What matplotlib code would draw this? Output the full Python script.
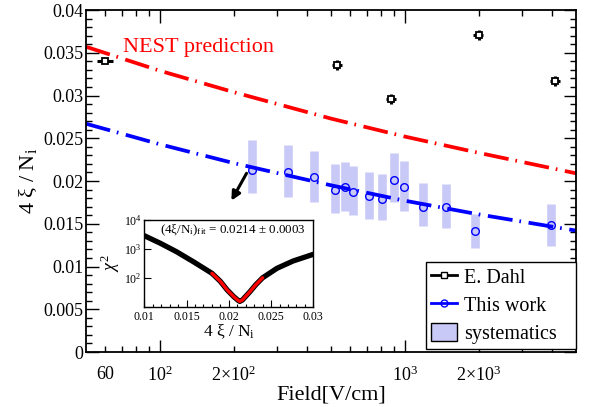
import matplotlib
matplotlib.use("Agg")
import matplotlib.pyplot as plt
from matplotlib.lines import Line2D
from matplotlib.patches import Patch
from matplotlib.ticker import FixedLocator, FixedFormatter, NullFormatter, LogLocator

plt.rcParams['font.family'] = ['Liberation Serif', 'DejaVu Serif']
plt.rcParams['mathtext.fontset'] = 'custom'
plt.rcParams['mathtext.rm'] = 'Liberation Serif'
plt.rcParams['mathtext.it'] = 'Liberation Serif:italic'
plt.rcParams['mathtext.bf'] = 'Liberation Serif:bold'
plt.rcParams['lines.scale_dashes'] = False

# ---------------- data ----------------
dahl_field = [60, 530, 880, 2000, 4100]
dahl_val = [0.0340, 0.0336, 0.0296, 0.0371, 0.0317]
dahl_xerr = [4.5, 25, 40, 95, 195]
dahl_yerr = [0.0001, 0.0006, 0.0006, 0.0006, 0.0006]

work_field = [237, 333, 427, 521, 570, 617, 713, 805, 902, 990, 1184, 1473, 1940, 3955]
work_val = [0.0213, 0.0210, 0.0205, 0.0190, 0.0193, 0.0187, 0.0182, 0.0179,
            0.0201, 0.0193, 0.0170, 0.0170, 0.0142, 0.0149]
sys_lo = [0.0186, 0.0181, 0.0176, 0.0163, 0.0165, 0.0160, 0.0156, 0.0154,
          0.0175, 0.0165, 0.0147, 0.0145, 0.0122, 0.0124]
sys_hi = [0.0248, 0.0242, 0.0235, 0.0220, 0.0222, 0.0217, 0.0211, 0.0208,
          0.0233, 0.0223, 0.0198, 0.0197, 0.0161, 0.0173]

nest_field = [50, 100, 200, 500, 1000, 2000, 5000]
nest_val = [0.0357, 0.0329, 0.0304, 0.0273, 0.0252, 0.0233, 0.0209]
fit_field = [50, 100, 200, 500, 1000, 2000, 5000]
fit_val = [0.0267, 0.0243, 0.0221, 0.0195, 0.0177, 0.0161, 0.0142]

chi_x = [0.010, 0.0119, 0.0138, 0.0158, 0.0180, 0.0190, 0.0198, 0.0206, 0.0211,
         0.0213, 0.0216, 0.0225, 0.0232, 0.0240, 0.0257, 0.0276, 0.0300]
chi_y = [2860, 1560, 800, 360, 143, 75, 38, 22, 16.5, 15.2, 17, 33, 58, 100, 213, 380, 650]
fit_range = (0.018, 0.024)

xticks_major = [100, 1000]
xticks_major_labels = [r'$10^{2}$', r'$10^{3}$']
xticks_minor = [60, 70, 80, 90, 200, 300, 400, 500, 600, 700, 800, 900, 2000, 3000, 4000]
xticks_minor_labels = ['60', '', '', '', r'$2{\times}10^{2}$', '', '', '', '', '', '', '',
                       r'$2{\times}10^{3}$', '', '']
yticks = [0, 0.005, 0.01, 0.015, 0.02, 0.025, 0.03, 0.035, 0.04]
ytick_labels = ['0', '0.005', '0.01', '0.015', '0.02', '0.025', '0.03', '0.035', '0.04']

# ---------------- figure ----------------
fig = plt.figure(figsize=(5.92, 4.07), dpi=100)
ax = fig.add_axes([0.1453, 0.1351, 0.8277, 0.8403])
ax.set_xscale('log')
ax.set_xlim(50, 5000)
ax.set_ylim(0, 0.04)

sys_color = '#c9c9f7'
ax.vlines(work_field, sys_lo, sys_hi, colors=sys_color, lw=6.2, zorder=1)

dashpat = (0, (18, 5, 1.2, 5.5))
ax.plot(nest_field, nest_val, color='#ff0000', lw=2.7, linestyle=dashpat, zorder=2)
ax.plot(fit_field, fit_val, color='#0000ff', lw=2.7, linestyle=dashpat, zorder=2)

ax.plot(work_field, work_val, linestyle='none', marker='o', ms=5.5, mfc='none',
        mec='#0000ff', mew=1.0, zorder=3)
ax.errorbar(dahl_field, dahl_val, xerr=dahl_xerr, yerr=dahl_yerr, fmt='s', ms=4.5,
            mfc='white', mec='black', mew=1.3, ecolor='black', elinewidth=2.2,
            capsize=0, zorder=4)

ax.text(71, 0.0351, 'NEST prediction', color='#ff0000', fontsize=16, va='baseline')

ax.annotate('', xy=(196, 0.0177), xytext=(226, 0.0209),
            arrowprops=dict(arrowstyle='-|>', color='black', lw=2.2, mutation_scale=13,
                            shrinkA=0, shrinkB=0))

ax.xaxis.set_major_locator(FixedLocator(xticks_major))
ax.xaxis.set_major_formatter(FixedFormatter(xticks_major_labels))
ax.xaxis.set_minor_locator(FixedLocator(xticks_minor))
ax.xaxis.set_minor_formatter(FixedFormatter(xticks_minor_labels))
ax.yaxis.set_major_locator(FixedLocator(yticks))
ax.yaxis.set_major_formatter(FixedFormatter(ytick_labels))
ax.yaxis.set_minor_locator(FixedLocator([i * 0.001 for i in range(41)]))

ax.tick_params(which='both', direction='in', top=True, right=True, width=1.0)
ax.tick_params(which='major', length=9)
ax.tick_params(which='minor', length=4.5)
ax.tick_params(axis='x', which='both', labelsize=13, pad=10)
ax.tick_params(axis='y', which='both', labelsize=13, pad=2)
for s in ax.spines.values():
    s.set_linewidth(1.3)

ax.set_xlabel('Field[V/cm]', fontsize=16, labelpad=0)
ax.set_ylabel(r'4 ξ / N$_{\mathregular{i}}$', fontsize=16, labelpad=3)

handles = [
    Line2D([], [], color='black', marker='s', ms=4.5, mfc='white', mec='black', lw=2),
    Line2D([], [], color='#0000ff', marker='o', ms=5, mfc='none', mec='#0000ff', lw=2),
    Patch(facecolor=sys_color, edgecolor='black', lw=1),
]
leg = ax.legend(handles, ['E. Dahl', 'This work', 'systematics'], loc='lower left',
                bbox_to_anchor=(0.694, 0.008, 0.306, 0.25), mode='expand',
                fontsize=14.5, frameon=True, fancybox=False,
                edgecolor='black', framealpha=1, borderpad=0.25, handlelength=1.3,
                handleheight=1.0, handletextpad=0.35, labelspacing=0.35, borderaxespad=0)
leg.get_frame().set_linewidth(1.0)

# ---------------- inset ----------------
ins = fig.add_axes([0.2438, 0.2465, 0.2855, 0.213])
ins.set_yscale('log')
ins.set_xlim(0.01, 0.03)
ins.set_ylim(10, 1e4)
ins.plot(chi_x, chi_y, color='black', lw=3.8, solid_capstyle='round')
red_x = [x for x in chi_x if fit_range[0] <= x <= fit_range[1]]
red_y = [y for x, y in zip(chi_x, chi_y) if fit_range[0] <= x <= fit_range[1]]
ins.plot(red_x, red_y, color='#ff0000', lw=2.4, solid_capstyle='round')

ins.xaxis.set_major_locator(FixedLocator([0.01, 0.015, 0.02, 0.025, 0.03]))
ins.xaxis.set_major_formatter(FixedFormatter(['0.01', '0.015', '0.02', '0.025', '0.03']))
ins.xaxis.set_minor_locator(FixedLocator([0.01 + i * 0.001 for i in range(21)]))
ins.yaxis.set_major_locator(FixedLocator([10, 100, 1000, 10000]))
ins.yaxis.set_major_formatter(FixedFormatter(['', r'$10^{2}$', r'$10^{3}$', r'$10^{4}$']))
ins.yaxis.set_minor_locator(LogLocator(base=10, subs=range(2, 10)))
ins.yaxis.set_minor_formatter(NullFormatter())
ins.tick_params(which='both', direction='in', labelsize=8.5, width=0.8)
ins.tick_params(which='major', length=5)
ins.tick_params(which='minor', length=2.5)
ins.tick_params(axis='x', pad=3)
ins.tick_params(axis='y', pad=2)
for s in ins.spines.values():
    s.set_linewidth(1.0)
ins.set_xlabel(r'4 ξ / N$_{\mathregular{i}}$', fontsize=12.5, labelpad=0)
ins.set_ylabel(r'$\chi^{2}$', fontsize=13, labelpad=1)
ins.text(0.095, 0.85, r'(4ξ/N$_{\mathregular{i}}$)$_{\mathregular{fit}}$ = 0.0214 ± 0.0003',
         transform=ins.transAxes, fontsize=9.4, va='baseline')

fig.savefig('out.png', dpi=100)
